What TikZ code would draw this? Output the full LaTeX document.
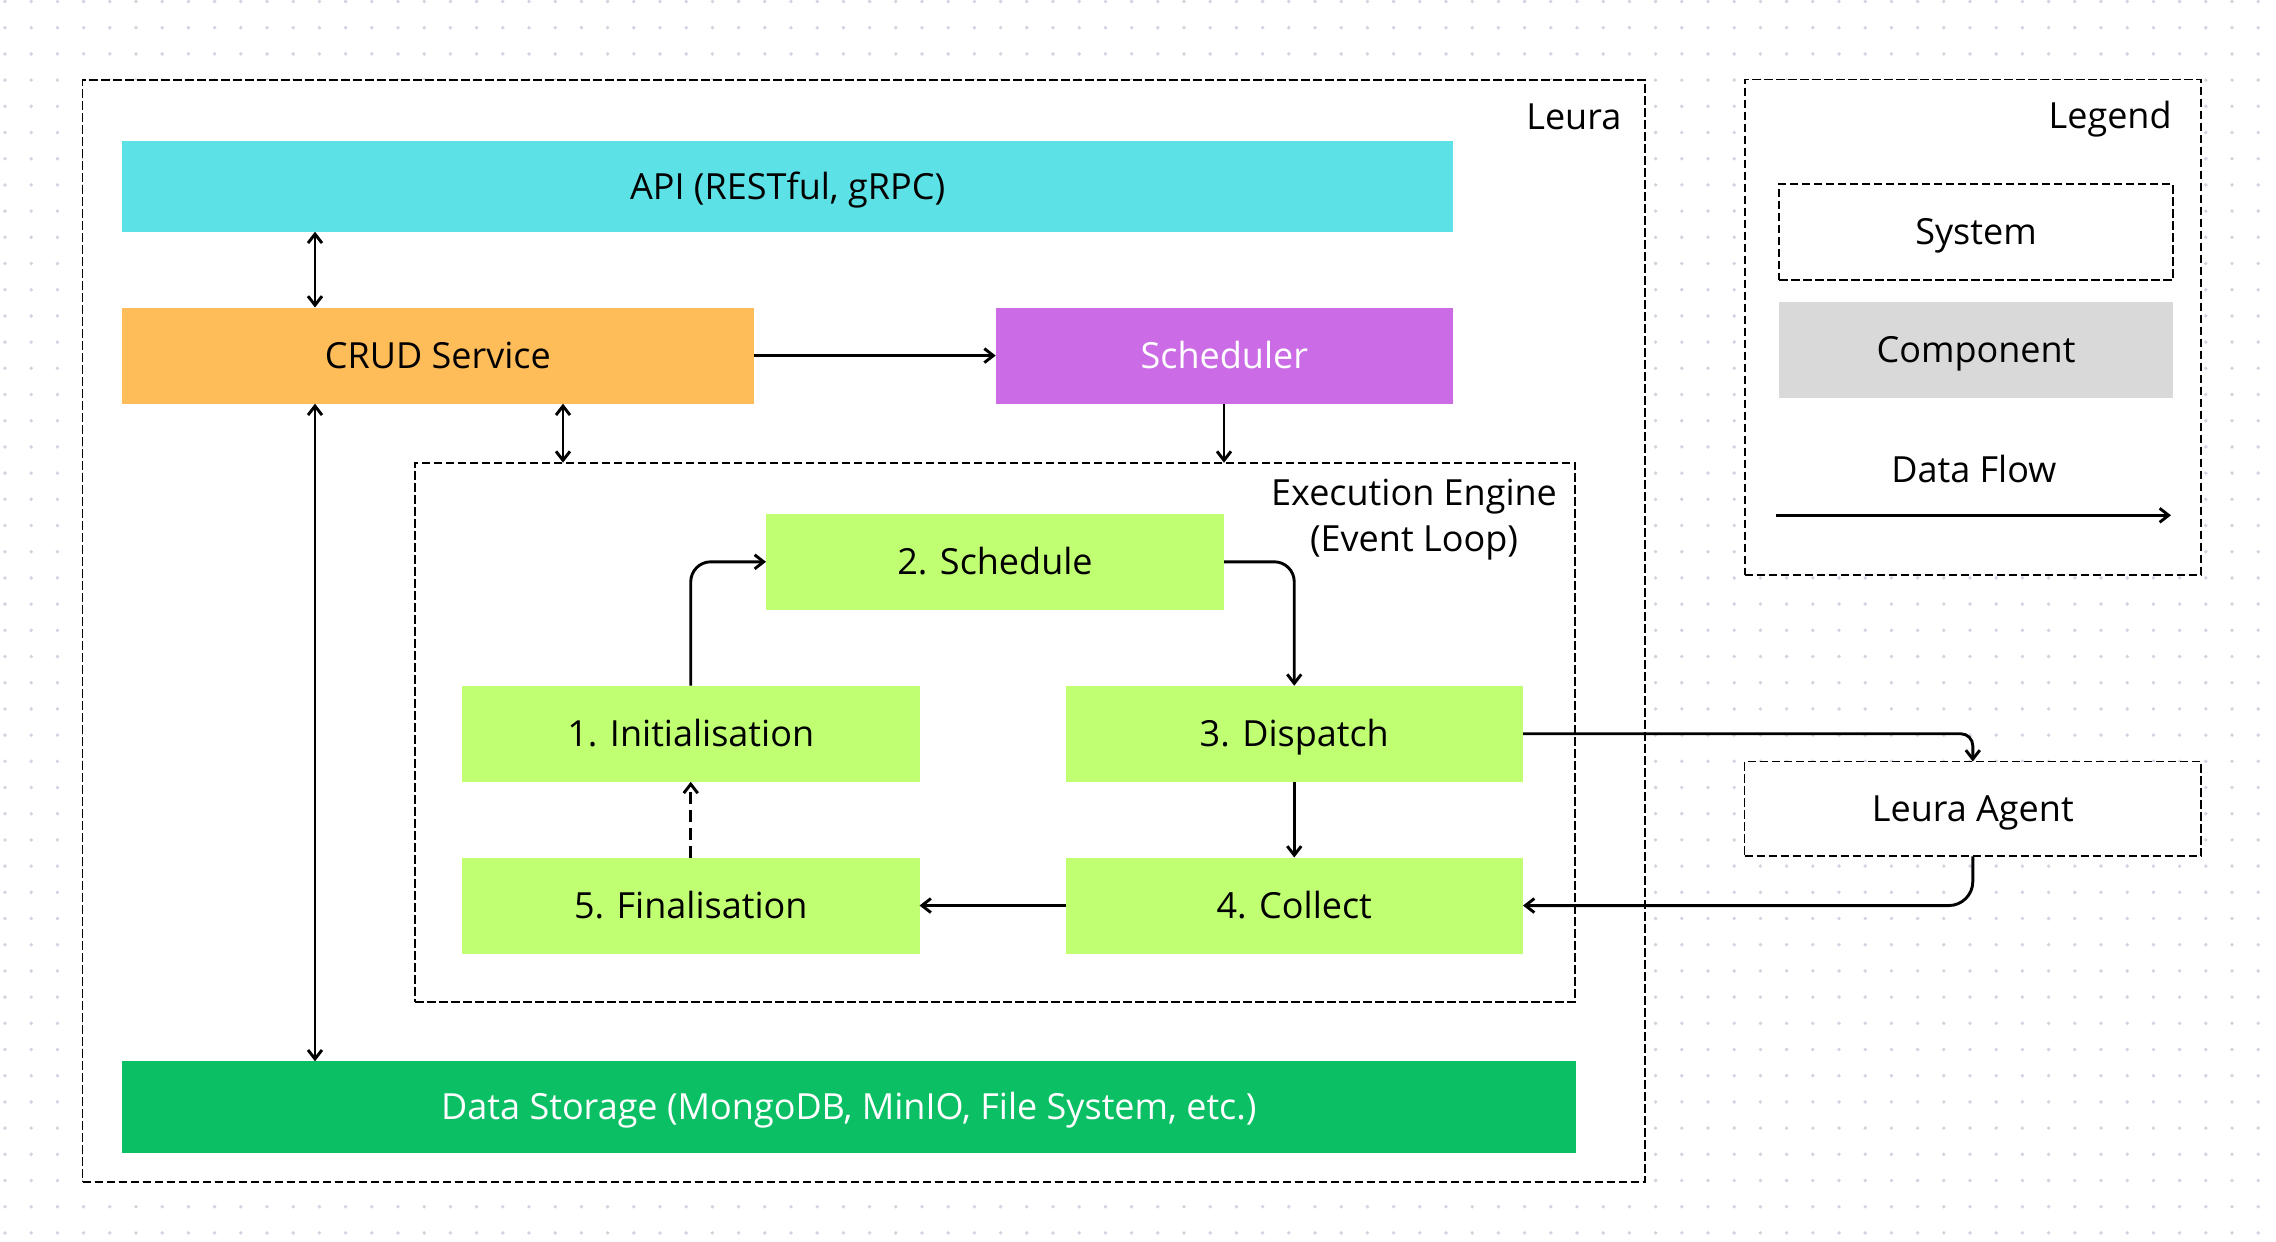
\documentclass[tikz,border=0pt]{standalone}
\usepackage{fontspec}
\setmainfont{Open Sans}
\usetikzlibrary{arrows.meta,calc}
\definecolor{capi}{HTML}{5CE1E6}
\definecolor{ccrud}{HTML}{FFBD59}
\definecolor{csched}{HTML}{CB6CE6}
\definecolor{cstep}{HTML}{C1FF72}
\definecolor{cstore}{HTML}{0BBF64}
\definecolor{ccomp}{HTML}{D9D9D9}
\definecolor{cdot}{HTML}{CFD4DE}
\begin{document}
\begin{tikzpicture}[x=0.5pt,y=-0.5pt,
  txt/.style={font=\fontsize{18}{22}\selectfont},
  box/.style={txt, inner sep=0pt, outer sep=0pt, anchor=north west, align=center, text height=12.9pt, text depth=0pt},
  sysbox/.style={box, draw=black, line width=0.85pt, dash pattern=on 4.3pt off 1.7pt, fill=white},
  compbox/.style={box, draw=none},
  flow/.style={line width=1.45pt, -{Straight Barb[length=4.5pt,width=7pt]}},
  biflow/.style={line width=1.45pt, {Straight Barb[length=4.5pt,width=7pt]}-{Straight Barb[length=4.5pt,width=7pt]}},
  lbl/.style={txt, inner sep=0pt},
]
\fill[white] (0,0) rectangle (2276,1242);
\useasboundingbox (0,0) rectangle (2276,1242);
% dotted background
\foreach \j in {0,...,47}
  \draw[cdot, line width=1.9pt, line cap=round, dash pattern=on 0pt off 13.1pt]
    (5,{1.5+\j*26.2}) -- (2276,{1.5+\j*26.2});

% systems
\node[sysbox, minimum width=781.25pt, minimum height=551pt] (leura) at (82.5,80) {};
\node[sysbox, minimum width=228.1pt, minimum height=247.75pt] (legend) at (1744.8,79.5) {};
\node[sysbox, minimum width=228.2pt, minimum height=47.4pt] (agent) at (1744.6,761.5) {Leura Agent};
\node[sysbox, minimum width=580pt, minimum height=269.65pt] (exec) at (415,462.7) {};

% components
\node[compbox, fill=capi, minimum width=665.35pt, minimum height=45.6pt] (api) at (122.3,140.5) {API (RESTful, gRPC)};
\node[compbox, fill=ccrud, minimum width=315.6pt, minimum height=48.1pt] (crud) at (122.3,307.5) {CRUD Service};
\node[compbox, fill=csched, text=white, minimum width=228.65pt, minimum height=48.1pt] (sched) at (995.7,307.5) {Scheduler};
\node[compbox, fill=cstep, minimum width=229pt, minimum height=47.8pt] (s2) at (766,514) {2. Schedule};
\node[compbox, fill=cstep, minimum width=228.75pt, minimum height=48.05pt] (s1) at (462,685.7) {1. Initialisation};
\node[compbox, fill=cstep, minimum width=228.75pt, minimum height=48.05pt] (s3) at (1065.5,685.7) {3. Dispatch};
\node[compbox, fill=cstep, minimum width=228.75pt, minimum height=48.05pt] (s5) at (462,857.5) {5. Finalisation};
\node[compbox, fill=cstep, minimum width=228.75pt, minimum height=48.05pt] (s4) at (1065.5,857.5) {4. Collect};
\node[compbox, fill=cstore, text=white, minimum width=726.6pt, minimum height=45.65pt] (store) at (122.3,1061.3) {Data Storage (MongoDB, MinIO, File System, etc.)};

% legend entries
\node[sysbox, minimum width=197pt, minimum height=47.7pt] (sys) at (1779,184.3) {System};
\node[compbox, fill=ccomp, minimum width=197pt, minimum height=48pt] (comp) at (1779,301.5) {Component};

% labels
\node[lbl, anchor=base east] (leuralbl) at (1621.7,129.3) {Leura};
\node[lbl, anchor=base east] (legendlbl) at (2172,128.4) {Legend};
\node[lbl, anchor=base] (exl1) at (1414,505) {Execution Engine};
\node[lbl, anchor=base] (exl2) at (1414,551.7) {(Event Loop)};
\node[lbl, anchor=base] (dflbl) at (1973.8,482) {Data Flow};

% connectors
\coordinate (xa) at (315,0);
\coordinate (xb) at (563,0);
\coordinate (lf1) at (1776,515.3);
\coordinate (lf2) at (2171,515.3);
\draw[flow] (lf1) -- (lf2);
\draw[biflow] (xa |- api.south) -- (xa |- crud.north);
\draw[biflow] (xa |- crud.south) -- (xa |- store.north);
\draw[biflow] (xb |- crud.south) -- (xb |- exec.north);
\draw[flow] (crud.east) -- (sched.west);
\draw[flow] (s2.east |- sched.south) -- (s2.east |- exec.north);
\draw[flow, rounded corners=10pt] (s1.north) |- (s2.west);
\draw[flow, rounded corners=10pt] (s2.east) -| (s3.north);
\draw[flow] (s3.south) -- (s4.north);
\draw[flow] (s4.west) -- (s5.east);
\draw[flow, dash pattern=on 6pt off 3pt] (s5.north) -- (s1.south);
\draw[flow, rounded corners=6pt] (s3.east) -| (agent.north);
\draw[flow, rounded corners=12pt] (agent.south) |- (s4.east);
\end{tikzpicture}
\end{document}
